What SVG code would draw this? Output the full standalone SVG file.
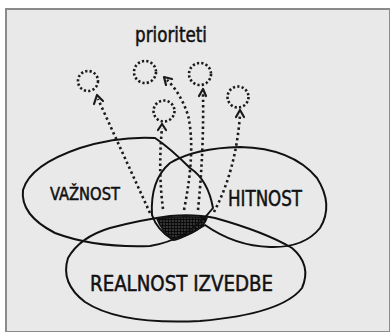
<svg xmlns="http://www.w3.org/2000/svg" width="390" height="332" viewBox="0 0 390 332">
<style>
.ln{fill:none;stroke:#111;stroke-width:2;stroke-linecap:round;stroke-linejoin:round}
.dc{fill:none;stroke:#1a1a1a;stroke-width:2.6;stroke-dasharray:2.2 2.2}
.da{fill:none;stroke:#1a1a1a;stroke-width:2.6;stroke-dasharray:2.4 3}
.ah{fill:none;stroke:#1a1a1a;stroke-width:2.2;stroke-linecap:round;stroke-linejoin:round}
.t{font-family:"DejaVu Sans Condensed","DejaVu Sans",sans-serif;fill:#111;stroke:#111;stroke-width:0.5}
</style>
<defs>
<pattern id="hatch" width="3" height="3" patternUnits="userSpaceOnUse">
<rect width="3" height="3" fill="#333"/>
<path d="M0 0H3M0 0V3" stroke="#000" stroke-width="1.4"/>
</pattern>
</defs>
<rect width="390" height="332" fill="#fff"/>
<rect x="6" y="9" width="384" height="323" fill="#e9e9e9" stroke="#8a8a8a" stroke-width="2"/>

<g id="hatched">
<path d="M157 219 Q180 215 207 218 Q202 233 173 239 Q162 232 157 219 Z" fill="url(#hatch)" stroke="#111" stroke-width="1.5"/>
</g>

<g id="vaznost">
<path class="ln" d="M155 138 Q118 136 80 148 Q30 165 23 190 Q20 215 55 233 Q95 248 150 246 Q188 240 213 208 Q208 180 190 168 Q170 148 155 138 Z"/>
<text class="t" x="50" y="200" font-size="17" textLength="70" lengthAdjust="spacingAndGlyphs">VAŽNOST</text>
</g>

<g id="hitnost">
<path class="ln" d="M152 215 Q150 180 170 163 Q195 148 240 147 Q292 148 317 178 Q334 205 320 228 Q304 248 270 247 Q235 246 205 225 Q180 240 173 240 Q157 230 152 215 Z"/>
<text class="t" x="228" y="206" font-size="21" textLength="74" lengthAdjust="spacingAndGlyphs">HITNOST</text>
</g>

<g id="realnost">
<path class="ln" d="M215 218 Q265 232 292 248 Q312 265 302 288 Q282 314 200 321 Q120 325 85 302 Q60 283 68 258 Q80 237 110 228 Q140 220 170 216 Q195 214 215 218 Z"/>
<text class="t" x="90" y="291" font-size="21" textLength="183" lengthAdjust="spacingAndGlyphs">REALNOST IZVEDBE</text>
</g>

<g id="prioriteti">
<text class="t" x="135" y="42" font-size="21" textLength="72" lengthAdjust="spacingAndGlyphs" stroke-width="0.3">prioriteti</text>
<circle id="p1" class="dc" cx="88" cy="81" r="10"/>
<circle id="p2" class="dc" cx="145" cy="72" r="11"/>
<circle id="p3" class="dc" cx="200" cy="74" r="11"/>
<circle id="p4" class="dc" cx="164" cy="111" r="10.5"/>
<circle id="p5" class="dc" cx="238" cy="97" r="10.5"/>
</g>

<g id="connectors">
<path class="da" d="M150 213 L98 99"/>
<path class="ah" d="M94 104 L97 95 L103 101"/>
<path class="da" d="M163 209 Q158 170 162 128"/>
<path class="ah" d="M158 130 L162 124 L166 130"/>
<path class="da" d="M184 210 Q196 150 188 115 Q180 92 167 80"/>
<path class="ah" d="M172 79 L164 77 L166 85"/>
<path class="da" d="M198 210 Q204 150 203 93"/>
<path class="ah" d="M199 96 L203 89 L206 96"/>
<path class="da" d="M214 212 Q236 170 240 115"/>
<path class="ah" d="M236 117 L240 110 L244 117"/>
</g>
</svg>
